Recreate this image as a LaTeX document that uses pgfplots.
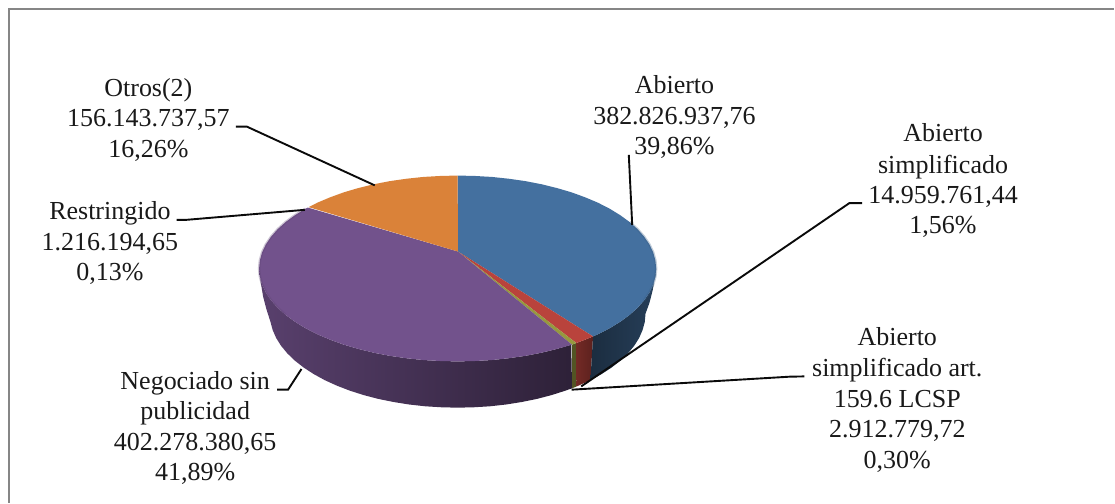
\documentclass[border=0pt]{standalone}
\usepackage{fontspec}
\setmainfont{Liberation Serif}
\usepackage{pgfplots}
\pgfplotsset{compat=1.18}
\definecolor{frameg}{HTML}{868686}
\definecolor{blueT}{HTML}{44709F}
\definecolor{redT}{HTML}{B9433C}
\definecolor{oliveT}{HTML}{96993F}
\definecolor{purpleT}{HTML}{72528C}
\definecolor{orangeT}{HTML}{DA8239}
\definecolor{leadk}{HTML}{0A0A0A}
% one line of a label, at its centre x and baseline y (pixels of the reference)
\newcommand{\lab}[3]{\node[anchor=base,inner sep=0pt,text=black!90,font=\fontsize{26.1}{31}\selectfont] at (axis cs:#1,#2) {#3};}
\begin{document}
\begin{tikzpicture}
\begin{axis}[
    scale only axis, width=1115bp, height=503bp,
    xmin=0, xmax=1115, ymin=0, ymax=503, y dir=reverse,
    axis line style={draw=none}, xtick=\empty, ytick=\empty,
    clip=false, no markers,
]
% frame, open at right and bottom
\addplot[frameg, line width=1.8bp] coordinates {(9,503) (9,9) (1115,9)};

% sides
\addplot[draw=none, left color=purpleT!78!black, right color=purpleT!40!black] coordinates {
 (571.7,345) (557.4,349.2) (542,353) (526,356.1) (509.4,358.5) (492.5,360.3) (475.3,361.3) (458,361.7)
 (440.7,361.3) (423.5,360.3) (406.6,358.5) (390,356.1) (374,353) (358.6,349.2) (344,344.9) (330.3,339.9)
 (317.5,334.5) (305.8,328.5) (295.2,322) (285.9,315.2) (277.9,308) (271.3,300.5) (266.1,292.8) (262.3,284.8)
 (260.1,276.8) (259.3,268.7)
 (261,283) (263.3,296.7) (266.5,309) (270.7,322.2) (272.9,330.3) (276.4,338.3) (281.3,346.1) (287.6,353.7)
 (295.2,361) (304,367.9) (314,374.4) (325.1,380.5) (337.2,386) (350.2,391) (364,395.4) (378.5,399.2)
 (393.7,402.3) (409.3,404.8) (425.4,406.6) (441.6,407.6) (458,408) (474.4,407.6) (490.6,406.6) (506.7,404.8)
 (522.3,402.3) (537.5,399.2) (552,395.4) (565.8,391) (572.5,388.6)} -- cycle;
\addplot[fill=oliveT!55!black, draw=none] coordinates {
 (572.5,345) (576.7,343.3) (577,386.8) (572.5,388.6)} -- cycle;
\addplot[left color=redT!62!black, right color=redT!50!black, draw=none] coordinates {
 (576.7,343.3) (585.7,339.9) (593.5,336.7) (590.9,380.5) (578.8,386) (577,386.8)} -- cycle;
\addplot[draw=none, left color=blueT!40!black, right color=blueT!56!black] coordinates {
 (593.5,336.7) (598.5,334.5) (610.2,328.5) (620.8,322) (630.1,315.2) (638.1,308) (644.7,300.5) (649.9,292.8)
 (653.7,284.8) (655.9,276.8) (656.7,268.7)
 (653.3,290) (650,303) (646,314) (645.3,322.2) (643.1,330.3) (639.6,338.3) (634.7,346.1) (628.4,353.7)
 (620.8,361) (612,367.9) (602,374.4) (590.9,380.5)} -- cycle;

% top slices
\addplot[fill=blueT, draw=none] coordinates {
 (458.3,251.7) (458,175.7) (475.3,176.1) (492.5,177.1) (509.4,178.9) (526,181.3) (542,184.4) (557.4,188.2)
 (572,192.5) (585.7,197.5) (598.5,202.9) (610.2,208.9) (620.8,215.4) (630.1,222.2) (638.1,229.4) (644.7,236.9)
 (649.9,244.6) (653.7,252.6) (655.9,260.6) (656.7,268.7) (655.9,276.8) (653.7,284.8) (649.9,292.8) (644.7,300.5)
 (638.1,308) (630.1,315.2) (620.8,322) (610.2,328.5) (598.5,334.5) (593.5,336.7)} -- cycle;
\addplot[fill=redT, draw=none] coordinates {
 (458.3,251.7) (593.5,336.7) (585.7,339.9) (576.7,343.3)} -- cycle;
\addplot[fill=oliveT, draw=none] coordinates {
 (458.3,251.7) (576.7,343.3) (572.5,345)} -- cycle;
\addplot[fill=purpleT, draw=none] coordinates {
 (458.3,251.7) (572.5,345) (557.4,349.2) (542,353) (526,356.1) (509.4,358.5) (492.5,360.3) (475.3,361.3)
 (458,361.7) (440.7,361.3) (423.5,360.3) (406.6,358.5) (390,356.1) (374,353) (358.6,349.2) (344,344.9)
 (330.3,339.9) (317.5,334.5) (305.8,328.5) (295.2,322) (285.9,315.2) (277.9,308) (271.3,300.5) (266.1,292.8)
 (262.3,284.8) (260.1,276.8) (259.3,268.7) (260.1,260.6) (262.3,252.6) (266.1,244.6) (271.3,236.9) (277.9,229.4)
 (285.9,222.2) (295.2,215.4) (305.8,208.9) (308,207.7)} -- cycle;
\addplot[fill=orangeT, draw=none] coordinates {
 (458.3,251.7) (309,207.3) (317.5,202.9) (330.3,197.5) (344,192.5) (358.6,188.2) (374,184.4) (390,181.3)
 (406.6,178.9) (423.5,177.1) (440.7,176.1) (458,175.7)} -- cycle;

% softer bevel along the rim, left and right
\addplot[purpleT!82!black, line width=2.5bp, opacity=0.3] coordinates {
 (285.9,315.2) (277.9,308) (271.3,300.5) (266.1,292.8) (262.3,284.8) (260.1,276.8) (259.3,268.7) (260.1,260.6)
 (262.3,252.6) (266.1,244.6) (271.3,236.9) (277.9,229.4) (285.9,222.2) (295.2,215.4) (305.8,208.9)};
\addplot[blueT!82!black, line width=2.5bp, opacity=0.3] coordinates {
 (630.1,222.2) (638.1,229.4) (644.7,236.9) (649.9,244.6) (653.7,252.6) (655.9,260.6) (656.7,268.7) (655.9,276.8)
 (653.7,284.8) (649.9,292.8) (644.7,300.5)};

% leader lines
\addplot[leadk, line width=1.9bp] coordinates {(629.3,155) (632.7,225)};
\addplot[leadk, line width=1.9bp] coordinates {(862.7,203.3) (850,203.3) (581.7,386.7)};
\addplot[leadk, line width=1.9bp] coordinates {(805,376.7) (790,377) (572,390)};
\addplot[leadk, line width=1.9bp] coordinates {(277.3,390) (288.3,390) (301.7,369.3)};
\addplot[leadk, line width=1.9bp] coordinates {(176.7,220) (186.7,220) (305,210)};
\addplot[leadk, line width=1.9bp] coordinates {(236,126.7) (247,126.7) (375,185.5)};

% labels
\lab{675}{93.3}{Abierto}
\lab{675}{125}{382.826.937,76}
\lab{675}{155}{39,86\%}
\lab{943.8}{141.7}{Abierto}
\lab{943.8}{173.3}{simplificado}
\lab{943.8}{204}{14.959.761,44}
\lab{943.8}{234}{1,56\%}
\lab{898}{346}{Abierto}
\lab{898}{376.7}{simplificado art.}
\lab{898}{408}{159.6 LCSP}
\lab{898}{438}{2.912.779,72}
\lab{898}{469}{0,30\%}
\lab{195.3}{390}{Negociado sin}
\lab{195.3}{420}{publicidad}
\lab{195.3}{450.7}{402.278.380,65}
\lab{195.3}{481}{41,89\%}
\lab{110}{220}{Restringido}
\lab{110}{250.7}{1.216.194,65}
\lab{110}{281}{0,13\%}
\lab{148.5}{96.7}{Otros(2)}
\lab{148.5}{126.7}{156.143.737,57}
\lab{148.5}{157.7}{16,26\%}
\end{axis}
\end{tikzpicture}
\end{document}
